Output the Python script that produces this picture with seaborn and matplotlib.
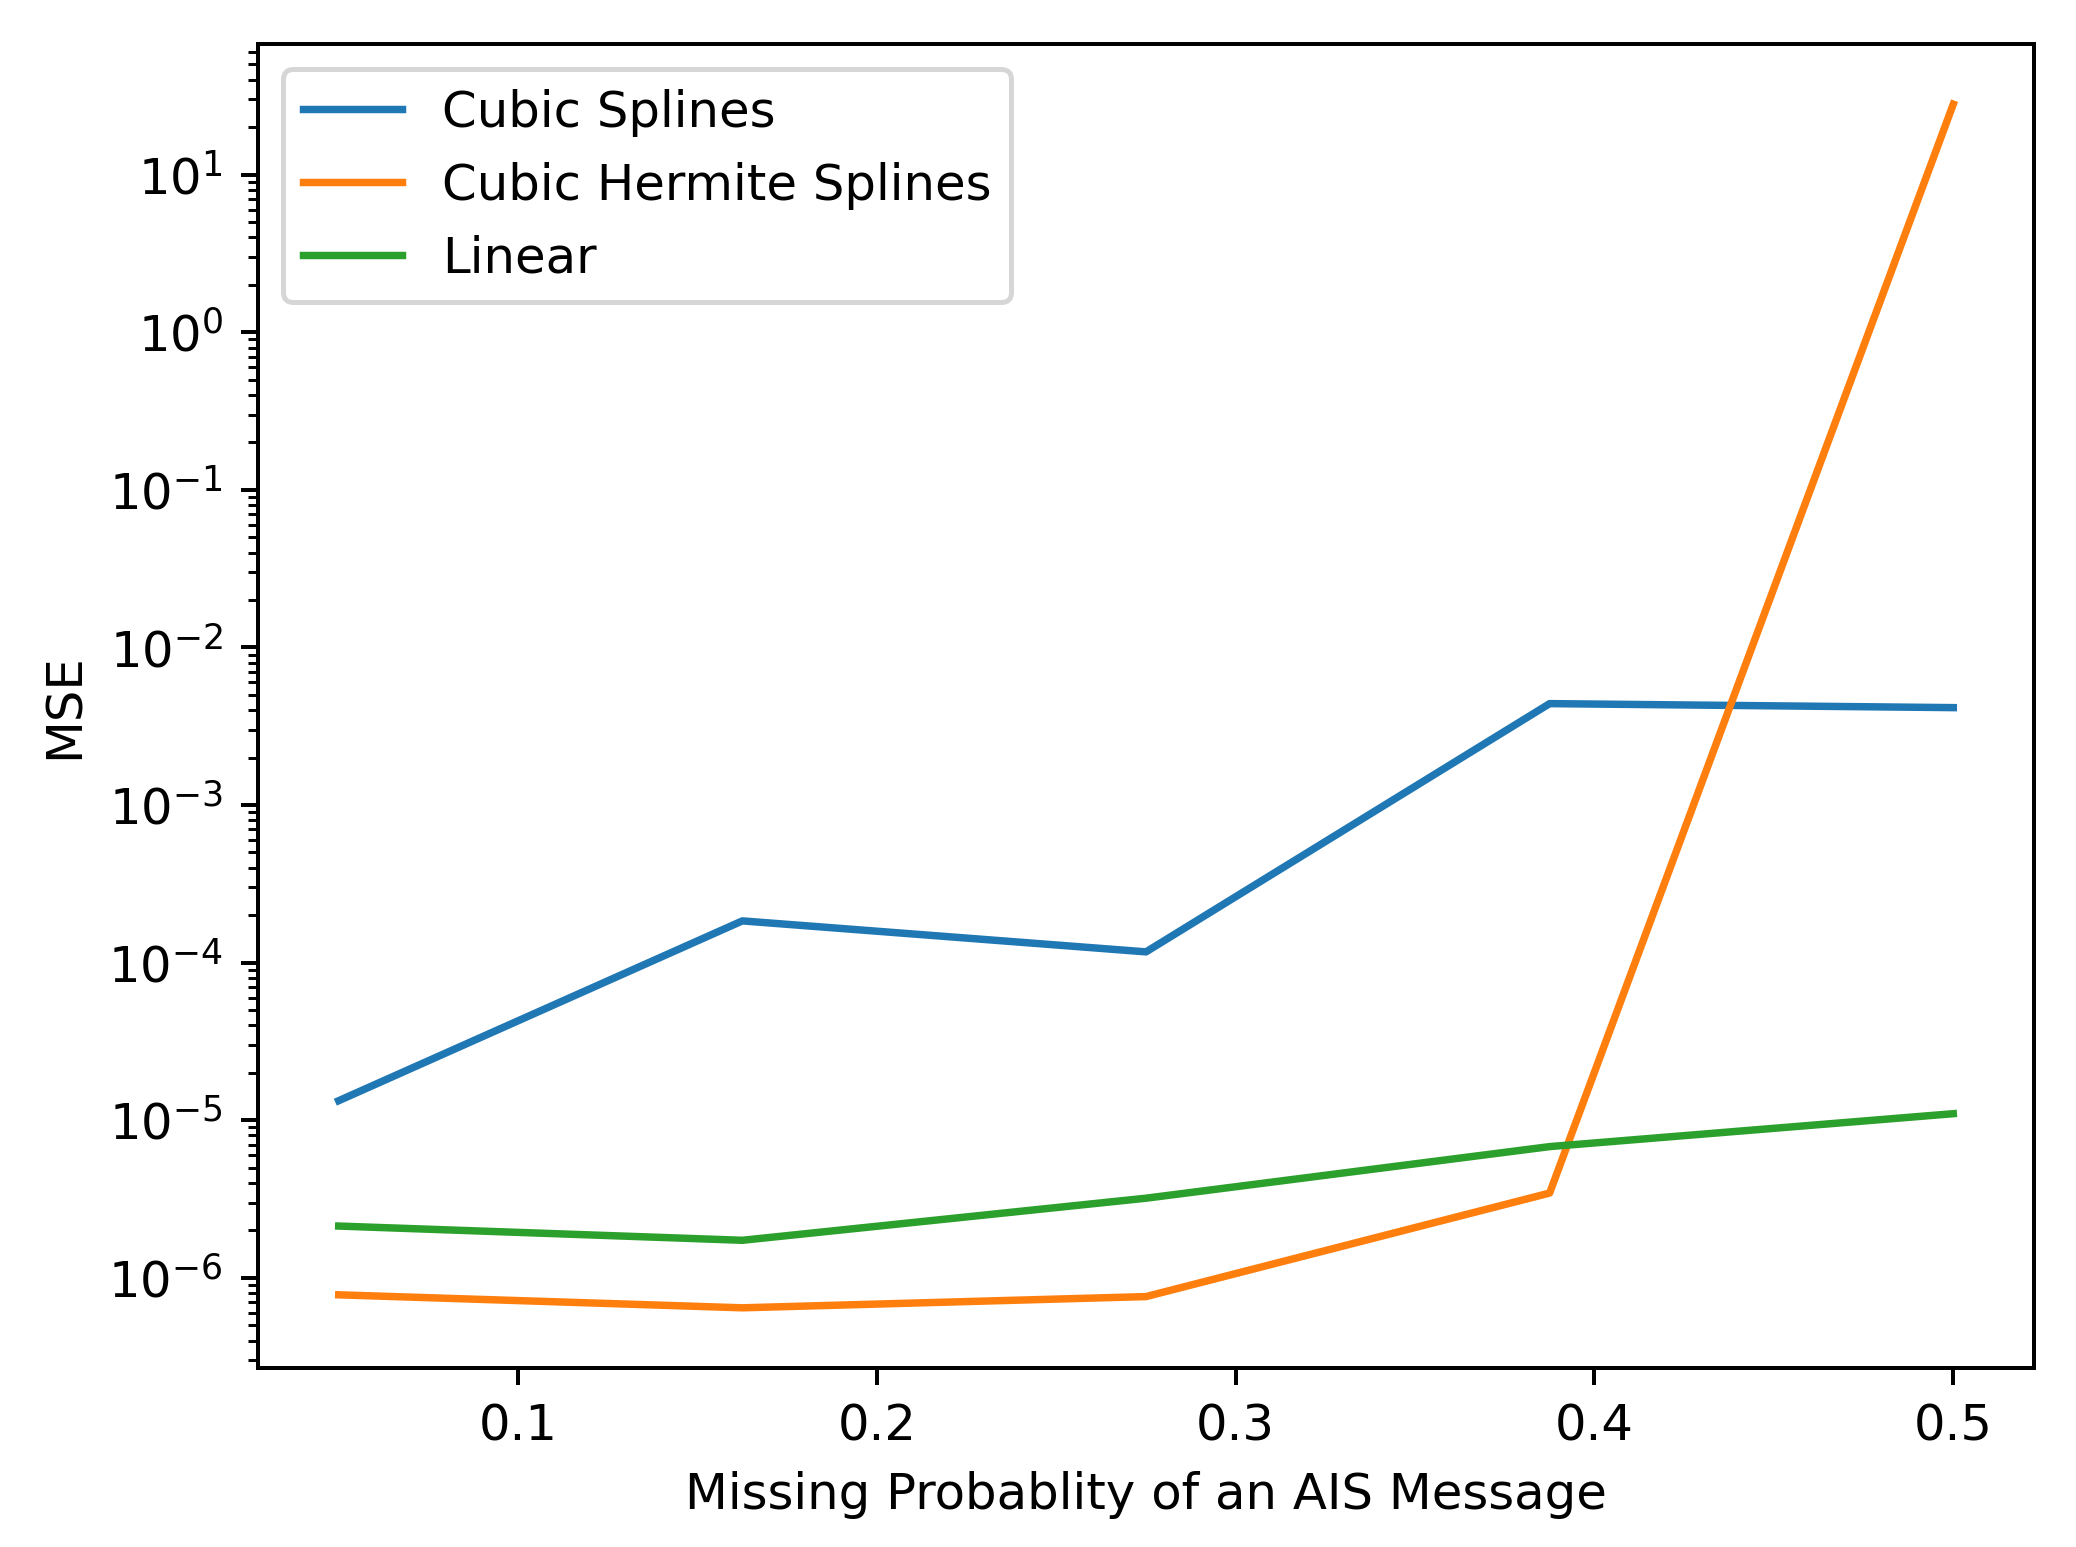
import matplotlib
matplotlib.use("Agg")
import matplotlib.pyplot as plt
import seaborn as sns
import numpy as np

missing_prob = [0.05, 0.1625, 0.275, 0.3875, 0.5]
cubic_splines = [1.33e-5, 1.84e-4, 1.17e-4, 4.4e-3, 4.15e-3]
cubic_hermite = [7.8e-7, 6.45e-7, 7.6e-7, 3.45e-6, 28.0]
linear = [2.13e-6, 1.73e-6, 3.2e-6, 6.8e-6, 1.1e-5]

series_names = ["Cubic Splines", "Cubic Hermite Splines", "Linear"]
series_values = [cubic_splines, cubic_hermite, linear]
colors = ["#1f77b4", "#ff7f0e", "#2ca02c"]

dpi = 358
fig = plt.figure(figsize=(2076 / dpi, 1547 / dpi), dpi=dpi)
ax = fig.add_axes([258 / 2076, 1 - 1368 / 1547, (2034 - 258) / 2076, (1368 - 44) / 1547])

for name, vals, c in zip(series_names, series_values, colors):
    sns.lineplot(x=missing_prob, y=vals, ax=ax, color=c, label=name, linewidth=1.5)

ax.set_yscale("log")
ax.set_xlabel("Missing Probablity of an AIS Message")
ax.set_ylabel("MSE")
ax.set_xticks([0.1, 0.2, 0.3, 0.4, 0.5])
ax.legend(loc="upper left")

fig.savefig("out.png", dpi=dpi)
